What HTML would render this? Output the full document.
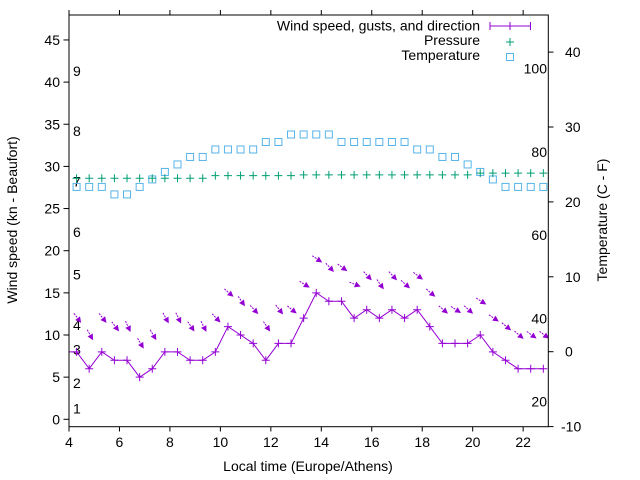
<!DOCTYPE html>
<html><head><meta charset="utf-8"><style>
html,body{margin:0;padding:0;background:#fff}
svg{display:block;font-family:"Liberation Sans",sans-serif}
</style></head><body>
<svg id="chart" width="640" height="480" xmlns="http://www.w3.org/2000/svg">
<defs><clipPath id="pc"><rect x="69" y="15" width="479.3" height="411.7"/></clipPath></defs>
<rect width="640" height="480" fill="#fff"/>
<g id="grid"></g>
<g id="marks" clip-path="url(#pc)"></g>
<rect x="69" y="15" width="479.3" height="411.7" fill="none" stroke="#000" stroke-width="1"/>
<text x="12" y="220" font-size="14" text-anchor="middle" transform="rotate(-90 12 220)" dominant-baseline="central">Wind speed (kn - Beaufort)</text>
<text x="602" y="220" font-size="14" text-anchor="middle" transform="rotate(-90 602 220)" dominant-baseline="central">Temperature (C - F)</text>
<text x="308" y="471" font-size="14" text-anchor="middle">Local time (Europe/Athens)</text>
<g>
<text x="480" y="30.5" font-size="14" text-anchor="end">Wind speed, gusts, and direction</text>
<g stroke="#9400d3" stroke-width="1">
<line x1="490" y1="26" x2="530.5" y2="26"/><line x1="490" y1="22" x2="490" y2="30"/><line x1="530.5" y1="22" x2="530.5" y2="30"/><line x1="510" y1="22" x2="510" y2="30"/></g>
<text x="480" y="45" font-size="14" text-anchor="end">Pressure</text>
<g stroke="#009e73" stroke-width="1"><line x1="506" y1="42" x2="514" y2="42"/><line x1="510" y1="38" x2="510" y2="46"/></g>
<text x="480" y="60" font-size="14" text-anchor="end">Temperature</text>
<rect x="506.5" y="53.5" width="7" height="7" fill="none" stroke="#56b4e9" stroke-width="1"/>
</g>
</svg>
<script>
const times=[3.8,4.3,4.8,5.3,5.8,6.3,6.8,7.3,7.8,8.3,8.8,9.3,9.8,10.3,10.8,11.3,11.8,12.3,12.8,13.3,13.8,14.3,14.8,15.3,15.8,16.3,16.8,17.3,17.8,18.3,18.8,19.3,19.8,20.3,20.8,21.3,21.8,22.3,22.8];
const windSpeed=[8,8,6,8,7,7,5,6,8,8,7,7,8,11,10,9,7,9,9,12,15,14,14,12,13,12,13,12,13,11,9,9,9,10,8,7,6,6,6];
const gusts=[null,12,10,12,11,11,9,10,12,12,11,11,12,15,14,13,11,13,13,16,19,18,18,16,17,16,17,16,17,15,13,13,13,14,12,11,10,10,10];
const windDir=[null,323,331,322,323,335,329,329,331,334,326,333,316,311,325,317,326,322,309,302,304,317,306,292,317,325,317,312,307,311,310,303,312,303,304,309,310,306,307];
const pressure=[null,28.6,28.6,28.6,28.6,28.6,28.6,28.6,28.6,28.6,28.6,28.6,28.9,28.9,28.9,28.9,28.9,28.9,28.9,29.0,29.0,29.0,29.0,29.0,29.0,29.0,29.0,29.0,29.0,29.0,29.0,29.0,29.0,29.2,29.2,29.2,29.2,29.2,29.2];
const tempC=[null,22,22,22,21,21,22,23,24,25,26,26,27,27,27,27,28,28,29,29,29,29,28,28,28,28,28,28,27,27,26,26,25,24,23,22,22,22,22];
const xTicks=[4,6,8,10,12,14,16,18,20,22];
const yTicks=[0,5,10,15,20,25,30,35,40,45];
const y2Ticks=[-10,0,10,20,30,40];
const fTicks=[20,40,60,80,100];
const beaufortLabels=["1","2","3","4","5","6","7","8","9"];
const beaufortPos=[1.3,4.3,8.3,11.2,17.2,22.2,28.2,34.2,41.3];

const X=t=>69+(t-4)*25.23;
const Y=v=>419.3-v*8.43;
const Y2=c=>351.7-c*7.49;
const NS="http://www.w3.org/2000/svg";
const grid=document.getElementById('grid'),marks=document.getElementById('marks');
function mk(tag,attrs,parent){const e=document.createElementNS(NS,tag);for(const k in attrs)e.setAttribute(k,attrs[k]);parent.appendChild(e);return e;}

xTicks.forEach(t=>{
  const l=mk('line',{x1:X(t),x2:X(t),y1:426.7,y2:431.5,stroke:'#000'},grid);
  
  
  const l2=mk('line',{x1:X(t),x2:X(t),y1:10,y2:15,stroke:'#000'},grid);
  
  
  const tx=mk('text',{x:X(t),y:447,'font-size':14,'text-anchor':'middle'},grid);tx.textContent=t;
  
  
});
yTicks.forEach(v=>{
  const l=mk('line',{x1:63.5,x2:69,y1:Y(v),y2:Y(v),stroke:'#000'},grid);
  
  
  const tx=mk('text',{x:60,y:Y(v)+5,'font-size':14,'text-anchor':'end'},grid);tx.textContent=v;
  
  
});
y2Ticks.forEach(v=>{
  const l=mk('line',{x1:548.3,x2:553.5,y1:Y2(v),y2:Y2(v),stroke:'#000'},grid);
  
  
  const tx=mk('text',{x:565,y:Y2(v)+5,'font-size':14,'text-anchor':'start'},grid);tx.textContent=v;
  if(v<0)tx.setAttribute('x',561);
  
  
});
fTicks.forEach(f=>{
  const tx=mk('text',{x:547,y:Y2((f-32)*5/9)+5,'font-size':14,'text-anchor':'end'},grid);tx.textContent=f;
  
  
});
beaufortLabels.forEach((b,i)=>{
  const tx=mk('text',{x:73,y:Y(beaufortPos[i])+5,'font-size':14},grid);tx.textContent=b;
  
  
});

// temperature squares
tempC.forEach((c,i)=>{ if(c===null)return;
  const r=mk('rect',{x:X(times[i])-3.5,y:Y2(c)-3.5,width:7,height:7,fill:'none',stroke:'#56b4e9'},marks);
  
  
});
// pressure plus
pressure.forEach((p,i)=>{ if(p===null)return;
  const g=mk('path',{d:`M${X(times[i])-4} ${Y(p)}h8M${X(times[i])} ${Y(p)-4}v8`,stroke:'#009e73',fill:'none'},marks);
  
  
});
// wind line
const pl=mk('polyline',{points:times.map((t,i)=>X(t)+','+Y(windSpeed[i])).join(' '),fill:'none',stroke:'#9400d3'},marks);


windSpeed.forEach((w,i)=>{
  const g=mk('path',{d:`M${X(times[i])-4} ${Y(w)}h8M${X(times[i])} ${Y(w)-4}v8`,stroke:'#9400d3',fill:'none'},marks);
  
  
});
// gust arrows
gusts.forEach((gv,i)=>{ if(gv===null)return;
  const a=(windDir[i]-270)*Math.PI/180, L=12;
  const cx=X(times[i])+1, cy=Y(gv);
  const dx=Math.cos(a)*L/2, dy=Math.sin(a)*L/2;
  const x1=cx-dx,y1=cy-dy,x2=cx+dx,y2=cy+dy;
  const ux=Math.cos(a),uy=Math.sin(a),hl=6,hw=3;
  const bx=x2-ux*hl,by=y2-uy*hl;
  const g=mk('g',{},marks);
  
  
  mk('line',{x1:x1,y1:y1,x2:bx,y2:by,stroke:'#9400d3','stroke-dasharray':'2,1'},g);
  mk('polygon',{points:`${x2},${y2} ${bx-uy*hw},${by+ux*hw} ${bx+uy*hw},${by-ux*hw}`,fill:'#9400d3'},g);
});
</script>
</body></html>
